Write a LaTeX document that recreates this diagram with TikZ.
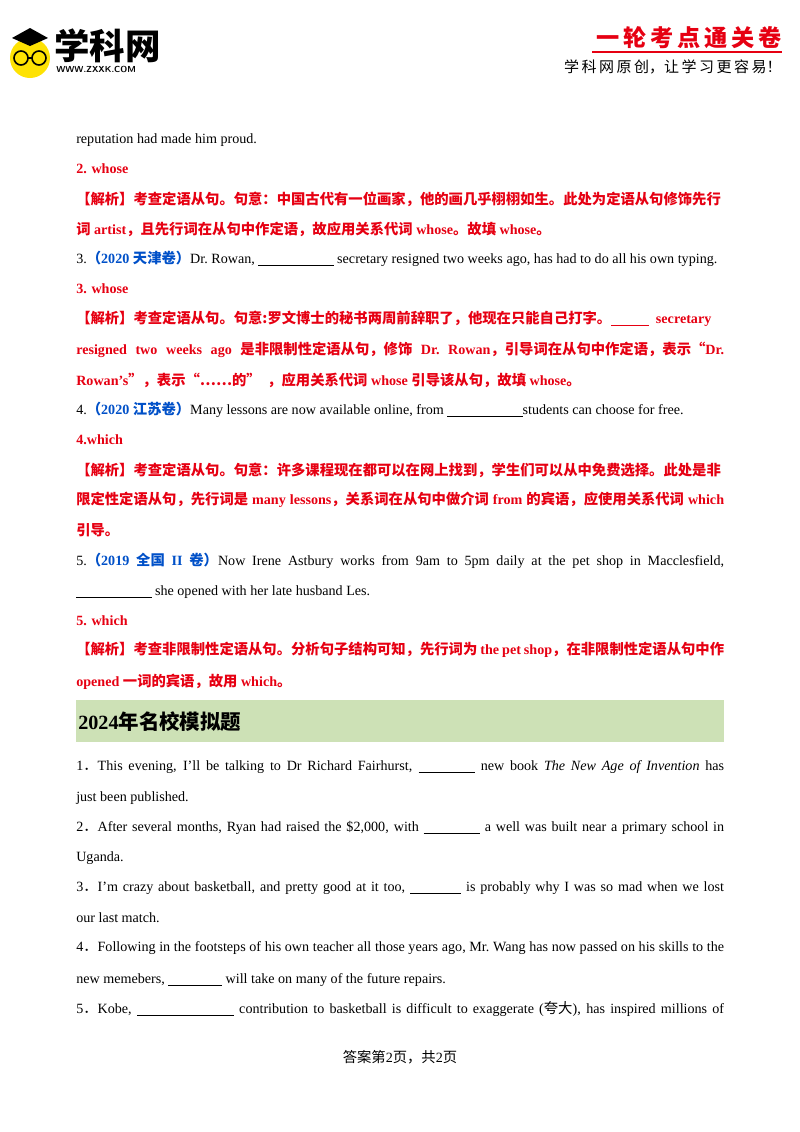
\documentclass[tikz,border=0pt]{standalone}
\usepackage{fontspec}
\setmainfont{Liberation Serif}
\newfontfamily\cjk[Scale=1.015]{Noto Sans CJK SC}
\newcommand\zh[1]{{\cjk #1}}
\definecolor{ared}{RGB}{230,0,18}
\definecolor{ablue}{RGB}{0,80,200}
\definecolor{bann}{RGB}{205,225,182}
\begin{document}
\begin{tikzpicture}[x=0.744pt,y=-0.744pt,
  every node/.style={inner sep=0pt,font=\fontsize{10.5pt}{12pt}\selectfont},
  ln/.style={anchor=west,align=left},
  full/.style={anchor=west,text width=482pt,align=justify,execute at begin node={\parfillskip=0pt\emergencystretch=20pt}},
  red/.style={text=ared,font=\fontsize{10.5pt}{12pt}\selectfont\bfseries}]
\useasboundingbox (0,0) rectangle (800,1132);
% header logo
\fill[yellow!85!orange] (30,58) circle (20);
\draw[line width=1.2pt] (21,58) circle (7) (39,58) circle (7) (28,58)--(32,58);
\fill (12,38)--(30,28)--(48,38)--(30,46)--cycle;
\node[ln,font=\cjk\bfseries\fontsize{26pt}{26pt}\selectfont] (logo) at (54,46) {学科网};
\node[ln,font=\sffamily\bfseries\fontsize{6.5pt}{7pt}\selectfont] (url) at (56,69) {WWW.ZXXK.COM};
\node[anchor=east,text=ared,font=\cjk\bfseries\fontsize{17pt}{17pt}\selectfont] (ttl) at (782,38) {一\,轮\,考\,点\,通\,关\,卷};
\draw[ared,line width=1pt] (592,52)--(782,52);
\node[anchor=east,font=\cjk\fontsize{11pt}{12pt}\selectfont] (sub) at (782,67) {学\,科\,网\,原\,创，让\,学\,习\,更\,容\,易！};
% body
\node[ln] (l1) at (76,140) {reputation had made him proud.};
\node[ln,red] (l2) at (76,169) {2. whose};
\node[full,red] (l3) at (76,199) {\zh{【解析】考查定语从句。句意：中国古代有一位画家，他的画几乎栩栩如生。此处为定语从句修饰先行}};
\node[ln,red] (l4) at (76,229) {\zh{词} artist\zh{，且先行词在从句中作定语，故应用关系代词} whose\zh{。故填} whose\zh{。}};
\node[ln] (l5) at (76,259) {3.{\color{ablue}\bfseries\zh{（}2020 \zh{天津卷）}}Dr.\ Rowan, \underline{\hspace{56pt}} secretary resigned two weeks ago, has had to do all his own typing.};
\node[ln,red] (l6) at (76,289) {3. whose};
\node[ln,red] (l7) at (76,319) {\zh{【解析】考查定语从句。句意:罗文博士的秘书两周前辞职了，他现在只能自己打字。}\underline{\hspace{28pt}}\ \ secretary};
\node[full,red] (l8) at (76,350) {resigned two weeks ago \zh{是非限制性定语从句，修饰} Dr.\ Rowan\zh{，引导词在从句中作定语，表示“}Dr.};
\node[ln,red] (l9) at (76,380) {Rowan’s\zh{”，表示“……的”\ \ ，应用关系代词} whose \zh{引导该从句，故填} whose\zh{。}};
\node[ln] (l10) at (76,410) {4.{\color{ablue}\bfseries\zh{（}2020 \zh{江苏卷）}}Many lessons are now available online, from \underline{\hspace{56pt}}students can choose for free.};
\node[ln,red] (l11) at (76,440) {4.which};
\node[full,red] (l12) at (76,470) {\zh{【解析】考查定语从句。句意：许多课程现在都可以在网上找到，学生们可以从中免费选择。此处是非}};
\node[full,red] (l13) at (76,500) {\zh{限定性定语从句，先行词是} many lessons\zh{，关系词在从句中做介词} from \zh{的宾语，应使用关系代词} which};
\node[ln,red] (l14) at (76,530) {\zh{引导。}};
\node[full] (l15) at (76,561) {5.{\color{ablue}\bfseries\zh{（}2019 \zh{全国} II \zh{卷）}}Now Irene Astbury works from 9am to 5pm daily at the pet shop in Macclesfield,};
\node[ln] (l16) at (76,592) {\underline{\hspace{56pt}} she opened with her late husband Les.};
\node[ln,red] (l17) at (76,621) {5. which};
\node[full,red] (l18) at (76,650) {\zh{【解析】考查非限制性定语从句。分析句子结构可知，先行词为} the pet shop\zh{，在非限制性定语从句中作}};
\node[ln,red] (l19) at (76,682) {opened \zh{一词的宾语，故用} which\zh{。}};
% banner
\fill[bann] (76,700) rectangle (724,742);
\node[ln,font=\fontsize{15pt}{16pt}\selectfont\bfseries] (ban) at (78,722) {2024\zh{年名校模拟题}};
\node[full] (m1) at (76,767) {1\zh{．}This evening, I’ll be talking to Dr Richard Fairhurst, \underline{\textbf{\hspace{42pt}}} new book \textit{The New Age of Invention} has};
\node[ln] (m2) at (76,798) {just been published.};
\node[full] (m3) at (76,828) {2\zh{．}After several months, Ryan had raised the \$2,000, with \underline{\hspace{42pt}} a well was built near a primary school in};
\node[ln] (m4) at (76,858) {Uganda.};
\node[full] (m5) at (76,888) {3\zh{．}I’m crazy about basketball, and pretty good at it too, \underline{\hspace{38pt}} is probably why I was so mad when we lost};
\node[ln] (m6) at (76,918) {our last match.};
\node[full] (m7) at (76,948) {4\zh{．}Following in the footsteps of his own teacher all those years ago, Mr.\ Wang has now passed on his skills to the};
\node[ln] (m8) at (76,980) {new memebers, \underline{\hspace{40pt}} will take on many of the future repairs.};
\node[full] (m9) at (76,1009) {5\zh{．}Kobe, \underline{\hspace{72pt}} contribution to basketball is difficult to exaggerate (\zh{夸大}), has inspired millions of};
\node (foot) at (400,1057) {\zh{答案第}2\zh{页，共}2\zh{页}};
\end{tikzpicture}
\end{document}
